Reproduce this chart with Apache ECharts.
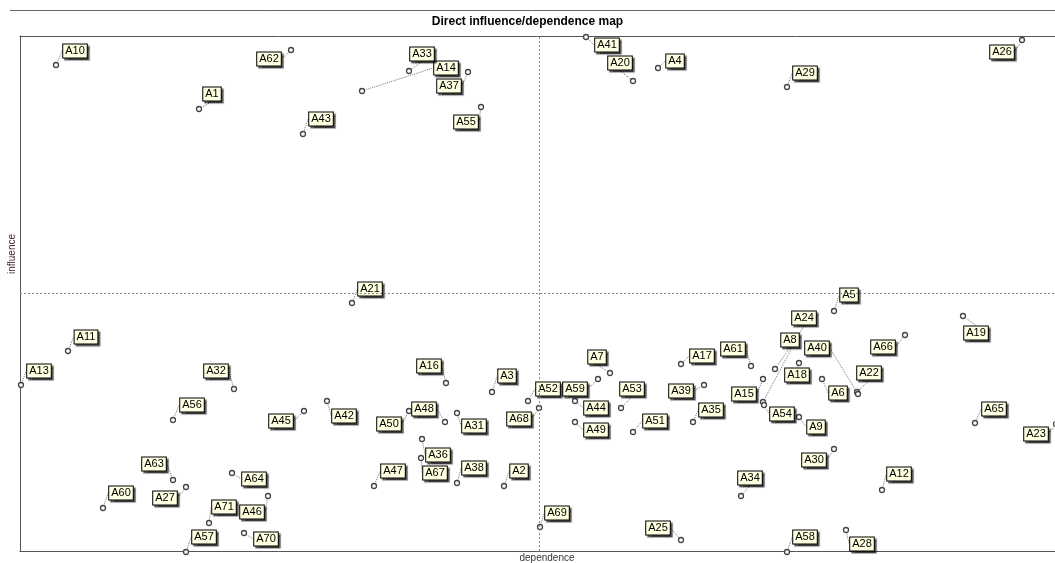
<!DOCTYPE html>
<html>
<head>
<meta charset="utf-8">
<script src="https://cdn.jsdelivr.net/npm/echarts@6/dist/echarts.min.js"></script>
<style>
html,body{margin:0;padding:0;background:#fff;}
#chart{width:1055px;height:563px;}
</style>
</head>
<body>
<div id="chart"></div>
<script>
// ---- data ----
const names = ['A1','A2','A3','A4','A5','A6','A7','A8','A9','A10','A11','A12','A13','A14','A15','A16','A17','A18','A19','A20','A21','A22','A23','A24','A25','A26','A27','A28','A29','A30','A31','A32','A33','A34','A35','A36','A37','A38','A39','A40','A41','A42','A43','A44','A45','A46','A47','A48','A49','A50','A51','A52','A53','A54','A55','A56','A57','A58','A59','A60','A61','A62','A63','A64','A65','A66','A67','A68','A69','A70','A71'];
const dependence = [17.9,48.4,47.2,63.8,81.4,80.2,59.0,75.5,77.9,3.6,4.8,86.2,0.1,34.2,74.3,42.6,66.1,77.9,94.3,61.3,33.2,83.7,103.6,74.3,66.1,100.2,16.6,82.6,76.7,81.4,43.7,21.4,38.9,72.1,67.3,40.2,44.8,43.7,68.4,83.8,56.6,30.7,28.3,55.5,28.4,24.8,35.4,42.5,55.5,38.9,61.3,50.8,60.1,74.4,46.1,15.3,16.6,76.7,57.8,8.3,73.1,27.1,15.3,21.2,95.5,88.5,40.1,51.9,52.0,22.4,18.9];
const influence = [44.2,6.5,15.9,48.3,24.0,17.2,17.8,18.2,13.4,48.6,20.0,6.1,16.6,46.0,17.2,16.8,18.7,18.8,23.5,47.0,24.8,15.9,12.7,14.9,1.1,51.1,6.4,2.1,46.4,10.2,13.8,16.2,48.0,5.5,12.9,11.2,47.9,6.8,16.6,15.7,51.4,15.0,41.7,15.0,14.0,5.5,6.5,12.9,12.9,14.0,11.9,15.0,14.3,14.6,44.4,13.1,-0.1,-0.1,17.2,4.3,18.5,50.1,7.1,7.8,12.8,21.6,9.3,14.3,2.4,1.8,2.8];
const meanDependence = [51.9];
const meanInfluence = [25.8];
// ---- label placement (layout only, pixels relative to the point) ----
const labelOffsetX = [13,15,15,17,15,16,-13,15,17,19,18,17,18,84,-19,-17,21,-2,13,-13,18,12,-20,41,-23,-20,-21,16,18,-20,17,-18,13,9,18,16,-19,17,-23,-41,21,17,18,21,-23,-16,19,-21,21,-20,22,20,11,18,-15,19,18,18,-23,18,-18,-22,-19,22,19,-22,14,-20,17,22,15];
const labelOffsetY = [-15,-15,-16,-7,-16,14,-16,-29,10,-14,-14,-16,-14,-23,15,-17,-8,12,17,-18,-14,-19,10,-84,-12,12,11,14,-14,11,13,-18,-17,-18,-12,16,14,-15,6,-46,8,15,-15,7,10,16,-15,-13,8,13,-11,-12,-19,9,15,-15,-15,-15,10,-15,-17,9,-16,6,-14,12,15,11,-14,6,-16];

const points = names.map((n, i) => ({ name: n, value: [dependence[i], influence[i]] }));

const hiddenAxis = { axisTick: { show: false }, axisLabel: { show: false }, splitLine: { show: false } };
const frameLine = { show: true, onZero: false, lineStyle: { color: '#555', width: 1 } };

const chart = echarts.init(document.getElementById('chart'), null, { renderer: 'canvas' });
chart.setOption({
  animation: false,
  backgroundColor: '#fff',
  title: {
    text: 'Direct influence/dependence map',
    left: 'center',
    top: 11,
    textStyle: { fontFamily: 'Liberation Sans', fontSize: 12, fontWeight: 'bold', color: '#000' }
  },
  graphic: [
    { type: 'line', shape: { x1: 10, y1: 10.5, x2: 1055, y2: 10.5 }, style: { stroke: '#666', lineWidth: 1 }, silent: true },
    { type: 'text', x: 547, y: 558, silent: true,
      style: { text: 'dependence', align: 'center', verticalAlign: 'middle', font: '10px "Liberation Sans"', fill: '#333' } },
    { type: 'text', x: 12, y: 254, rotation: Math.PI / 2, silent: true,
      style: { text: 'influence', align: 'center', verticalAlign: 'middle', font: '10px "Liberation Sans"', fill: '#402020' } }
  ],
  grid: { left: 20, right: 0, top: 36, bottom: 12, show: false },
  xAxis: [
    Object.assign({ type: 'value', min: 0, max: 103.5, position: 'bottom', axisLine: frameLine }, hiddenAxis),
    Object.assign({ type: 'value', min: 0, max: 103.5, position: 'top', axisLine: frameLine }, hiddenAxis)
  ],
  yAxis: Object.assign({ type: 'value', min: 0, max: 51.5, position: 'left', axisLine: frameLine }, hiddenAxis),
  series: [{
    type: 'scatter',
    data: points,
    clip: false,
    symbol: 'circle',
    symbolSize: 5,
    itemStyle: { color: '#fff', borderColor: '#444', borderWidth: 1.3, opacity: 1 },
    label: {
      show: true,
      position: 'inside',
      formatter: p => p.name,
      fontFamily: 'Liberation Sans',
      fontSize: 11,
      lineHeight: 12,
      color: '#000',
      backgroundColor: '#FFFFE1',
      borderColor: '#000',
      borderWidth: 1,
      padding: [1, 2, 0, 2],
      shadowColor: 'rgba(0,0,0,0.55)',
      shadowOffsetX: 2,
      shadowOffsetY: 2,
      shadowBlur: 1
    },
    labelLine: { show: true, lineStyle: { color: '#777', width: 1, type: [1, 1], opacity: 1 } },
    labelLayout: function (params) {
      const i = params.dataIndex;
      const cx = params.rect.x + params.rect.width / 2;
      const cy = params.rect.y + params.rect.height / 2;
      return { x: cx + labelOffsetX[i], y: cy + labelOffsetY[i], align: 'center', verticalAlign: 'middle', moveOverlap: false, hideOverlap: false };
    },
    emphasis: { disabled: true },
    markLine: {
      silent: true,
      symbol: 'none',
      label: { show: false },
      lineStyle: { type: [2, 2], color: '#888', width: 1, opacity: 1 },
      data: [{ xAxis: meanDependence[0] }, { yAxis: meanInfluence[0] }]
    }
  }]
});
</script>
</body>
</html>
